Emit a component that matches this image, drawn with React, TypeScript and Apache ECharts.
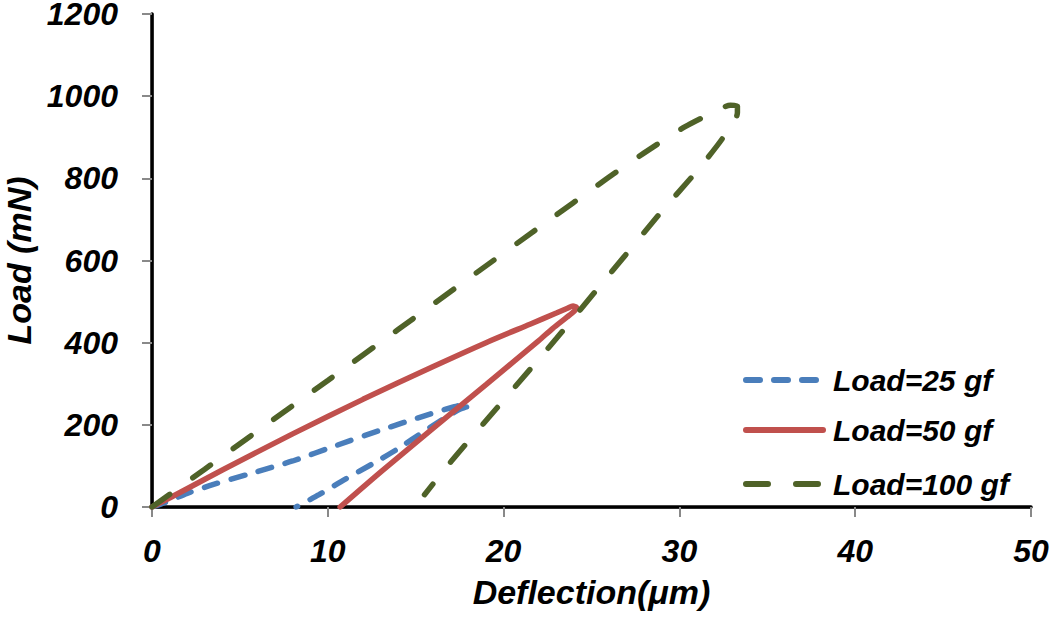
import React, { useEffect, useRef } from "react";
import * as echarts from "echarts";

const xTicks = [0, 10, 20, 30, 40, 50];
const yTicks = [0, 200, 400, 600, 800, 1000, 1200];

const seriesNames = ["Load=25 gf", "Load=50 gf", "Load=100 gf"];

const load25: number[][] = [
  [0, 0], [0.8, 12], [2, 33], [3.5, 55], [5.5, 80], [8, 112], [10.5, 150], [13, 187],
  [15.5, 222], [17.2, 244], [17.9, 250], [18.0, 246], [17.5, 238], [16.6, 215],
  [15.5, 185], [14, 142], [12.5, 104], [11, 68], [9.5, 30], [8.2, 0],
];

const load50: number[][] = [
  [0, 0], [1, 22], [4, 90], [8, 178], [12, 262], [16, 342], [19, 400], [21.5, 445],
  [23, 472], [23.6, 483], [23.95, 489], [24.15, 486], [24.05, 478], [23.6, 462],
  [22.8, 435], [22, 405], [19, 298], [16, 192], [13, 85], [10.7, 0],
];

const load100: number[][] = [
  [0, 0], [3, 92], [6, 185], [10, 308], [14, 432], [18, 556], [22, 680], [25.9, 800],
  [28, 862], [30.3, 925], [32, 962], [32.9, 978], [33.3, 976], [33.3, 960], [32.5, 900],
  [31, 818], [29, 720], [26, 565], [23, 410], [20, 260], [17, 110], [15.5, 30],
];

const colors = ["#4A7EBB", "#C0504D", "#4F6228"];
const dashTypes: any[] = [[14, 14], "solid", [22, 28]];
const FONT = "'Liberation Sans', Arial, sans-serif";

export default function App() {
  const ref = useRef<HTMLDivElement>(null);
  useEffect(() => {
    if (!ref.current) return;
    const chart = echarts.init(ref.current, null, { renderer: "svg" });
    const labelStyle = {
      color: "#000",
      fontFamily: FONT,
      fontWeight: "bold" as const,
      fontStyle: "italic" as const,
      fontSize: 32,
    };
    const legendBase = (i: number, top: number) => ({
      data: [seriesNames[i]],
      left: 743,
      top,
      padding: 0,
      orient: "vertical",
      itemWidth: 77,
      itemHeight: 16,
      itemGap: 0,
      itemStyle: { opacity: 0 },
      lineStyle: { width: 6, cap: "round", color: colors[i], type: dashTypes[i] },
      textStyle: {
        color: "#000",
        fontFamily: FONT,
        fontWeight: "bold",
        fontStyle: "italic",
        fontSize: 30,
        padding: [0, 0, 0, 5],
      },
    });
    chart.setOption({
      animation: false,
      backgroundColor: "#fff",
      grid: {
        left: 152,
        right: 19,
        top: 14,
        bottom: 110,
        containLabel: false,
        outerBoundsMode: "none",
      },
      legend: [legendBase(0, 365), legendBase(1, 415), legendBase(2, 469)],
      xAxis: [
        {
          type: "value",
          min: xTicks[0],
          max: xTicks[xTicks.length - 1],
          interval: 10,
          name: "Deflection(μm)",
          nameLocation: "middle",
          nameGap: 68,
          nameTextStyle: { ...labelStyle, fontSize: 34 },
          axisLine: { show: true, lineStyle: { color: "#898989", width: 2.5 } },
          axisTick: { show: true, inside: false, length: 10, lineStyle: { color: "#898989", width: 2 } },
          axisLabel: { ...labelStyle, margin: 28, formatter: (v: number) => String(v) },
          splitLine: { show: false },
        },
        {
          type: "value",
          position: "top",
          min: 0,
          max: 50,
          interval: 10,
          axisLine: { show: true, lineStyle: { color: "#000", width: 3.5 } },
          axisTick: { show: false },
          axisLabel: { show: false },
          splitLine: { show: false },
        },
      ],
      yAxis: [
        {
          type: "value",
          min: yTicks[0],
          max: yTicks[yTicks.length - 1],
          interval: 200,
          name: "Load (mN)",
          nameLocation: "middle",
          nameGap: 116,
          nameTextStyle: { ...labelStyle, fontSize: 34 },
          axisLine: { show: true, lineStyle: { color: "#898989", width: 2.5 } },
          axisTick: { show: true, inside: false, length: 10, lineStyle: { color: "#898989", width: 2 } },
          axisLabel: { ...labelStyle, margin: 34, formatter: (v: number) => String(v) },
          splitLine: { show: false },
        },
        {
          type: "value",
          position: "right",
          min: 0,
          max: 1200,
          interval: 200,
          axisLine: { show: true, lineStyle: { color: "#000", width: 3.5 } },
          axisTick: { show: false },
          axisLabel: { show: false },
          splitLine: { show: false },
        },
      ],
      series: [load25, load50, load100].map((d, i) => ({
        name: seriesNames[i],
        type: "line",
        data: d,
        smooth: 0.25,
        showSymbol: false,
        symbol: "none",
        lineStyle: { color: colors[i], width: 5.5, type: dashTypes[i], cap: "round" },
        itemStyle: { color: colors[i] },
        z: 3 + i,
      })),
    });
    return () => chart.dispose();
  }, []);
  return (
    <div
      ref={ref}
      style={{ position: "fixed", left: 0, top: 0, width: 1050, height: 617 }}
    />
  );
}
